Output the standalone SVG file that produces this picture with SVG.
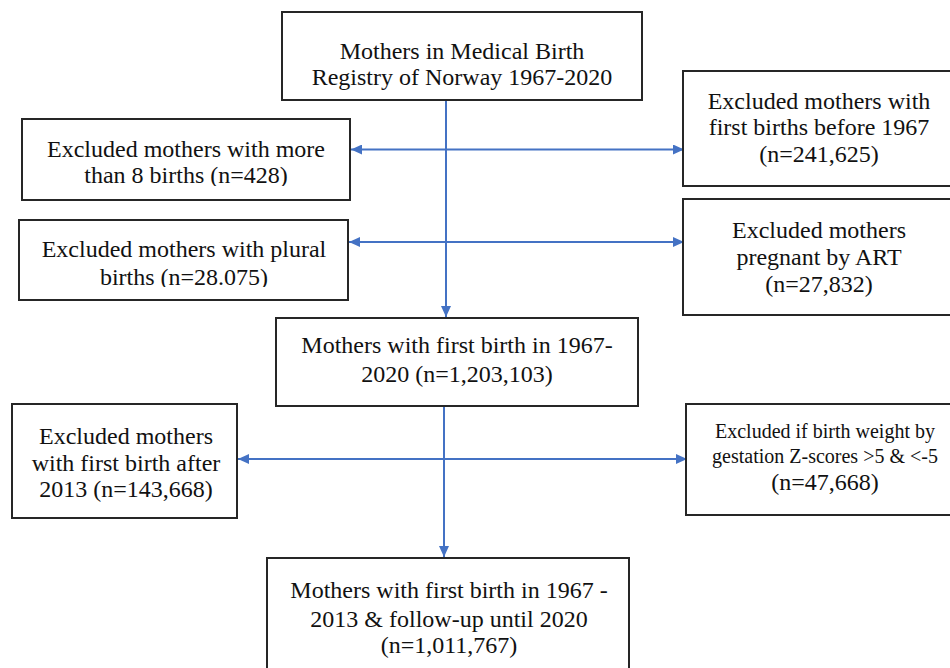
<svg xmlns="http://www.w3.org/2000/svg" width="950" height="668" viewBox="0 0 950 668">
<style>
.box{fill:#fff;stroke:#262626;stroke-width:2}
.t{font-family:"Liberation Serif","Times New Roman",serif;font-size:24px;fill:#111;text-anchor:middle}
.s{font-size:20px}
.c{fill:none;stroke:#4472C4;stroke-width:2}
</style>
<defs>
<marker id="ah" markerWidth="11" markerHeight="10" refX="11" refY="5" orient="auto" markerUnits="userSpaceOnUse">
<path d="M0,0 L11,5 L0,10 Z" fill="#4472C4"/>
</marker>
<clipPath id="clip1"><rect x="0" y="100" width="360" height="86"/></clipPath>
<clipPath id="clip2"><rect x="0" y="200" width="360" height="87"/></clipPath>
</defs>
<rect width="950" height="668" fill="#fff"/>
<g id="connectors">
<line class="c" x1="446" y1="100" x2="446" y2="317" marker-end="url(#ah)"/>
<line class="c" x1="446" y1="149.5" x2="351" y2="149.5" marker-end="url(#ah)"/>
<line class="c" x1="446" y1="149.5" x2="684" y2="149.5" marker-end="url(#ah)"/>
<line class="c" x1="446" y1="242" x2="349" y2="242" marker-end="url(#ah)"/>
<line class="c" x1="446" y1="242" x2="684" y2="242" marker-end="url(#ah)"/>
<line class="c" x1="444" y1="406" x2="444" y2="557" marker-end="url(#ah)"/>
<line class="c" x1="444" y1="459" x2="238" y2="459" marker-end="url(#ah)"/>
<line class="c" x1="444" y1="459" x2="687" y2="459" marker-end="url(#ah)"/>
</g>
<g id="n_registry">
<rect class="box" x="282" y="12" width="360" height="88"/>
<text class="t" x="462" y="59">Mothers in Medical Birth</text>
<text class="t" x="462" y="85">Registry of Norway 1967-2020</text>
</g>
<g id="n_more8">
<rect class="box" x="22" y="119" width="328" height="81"/>
<g clip-path="url(#clip1)">
<text class="t" x="186" y="157">Excluded mothers with more</text>
<text class="t" x="186" y="183">than 8 births (n=428)</text>
</g>
</g>
<g id="n_plural">
<rect class="box" x="19" y="220" width="329" height="80"/>
<g clip-path="url(#clip2)">
<text class="t" x="184" y="257">Excluded mothers with plural</text>
<text class="t" x="184" y="285">births (n=28.075)</text>
</g>
</g>
<g id="n_before1967">
<rect class="box" x="683" y="71" width="290" height="115"/>
<text class="t" x="819" y="109">Excluded mothers with</text>
<text class="t" x="819" y="135">first births before 1967</text>
<text class="t" x="819" y="162">(n=241,625)</text>
</g>
<g id="n_art">
<rect class="box" x="683" y="199" width="290" height="116"/>
<text class="t" x="819" y="238">Excluded mothers</text>
<text class="t" x="819" y="265">pregnant by ART</text>
<text class="t" x="819" y="292">(n=27,832)</text>
</g>
<g id="n_first">
<rect class="box" x="276" y="318" width="362" height="88"/>
<text class="t" x="457" y="353">Mothers with first birth in 1967-</text>
<text class="t" x="457" y="382">2020 (n=1,203,103)</text>
</g>
<g id="n_after2013">
<rect class="box" x="12" y="404" width="225" height="114"/>
<text class="t" x="126" y="444">Excluded mothers</text>
<text class="t" x="126" y="470.5">with first birth after</text>
<text class="t" x="126" y="497">2013 (n=143,668)</text>
</g>
<g id="n_zscore">
<rect class="box" x="686" y="404" width="290" height="111"/>
<text class="t s" x="825" y="438">Excluded if birth weight by</text>
<text class="t s" x="825" y="463">gestation Z-scores &gt;5 &amp; &lt;-5</text>
<text class="t" x="825" y="490">(n=47,668)</text>
</g>
<g id="n_final">
<rect class="box" x="267" y="558" width="362" height="130"/>
<text class="t" x="449" y="598">Mothers with first birth in 1967 -</text>
<text class="t" x="449" y="627">2013 &amp; follow-up until 2020</text>
<text class="t" x="449" y="653">(n=1,011,767)</text>
</g>
</svg>
